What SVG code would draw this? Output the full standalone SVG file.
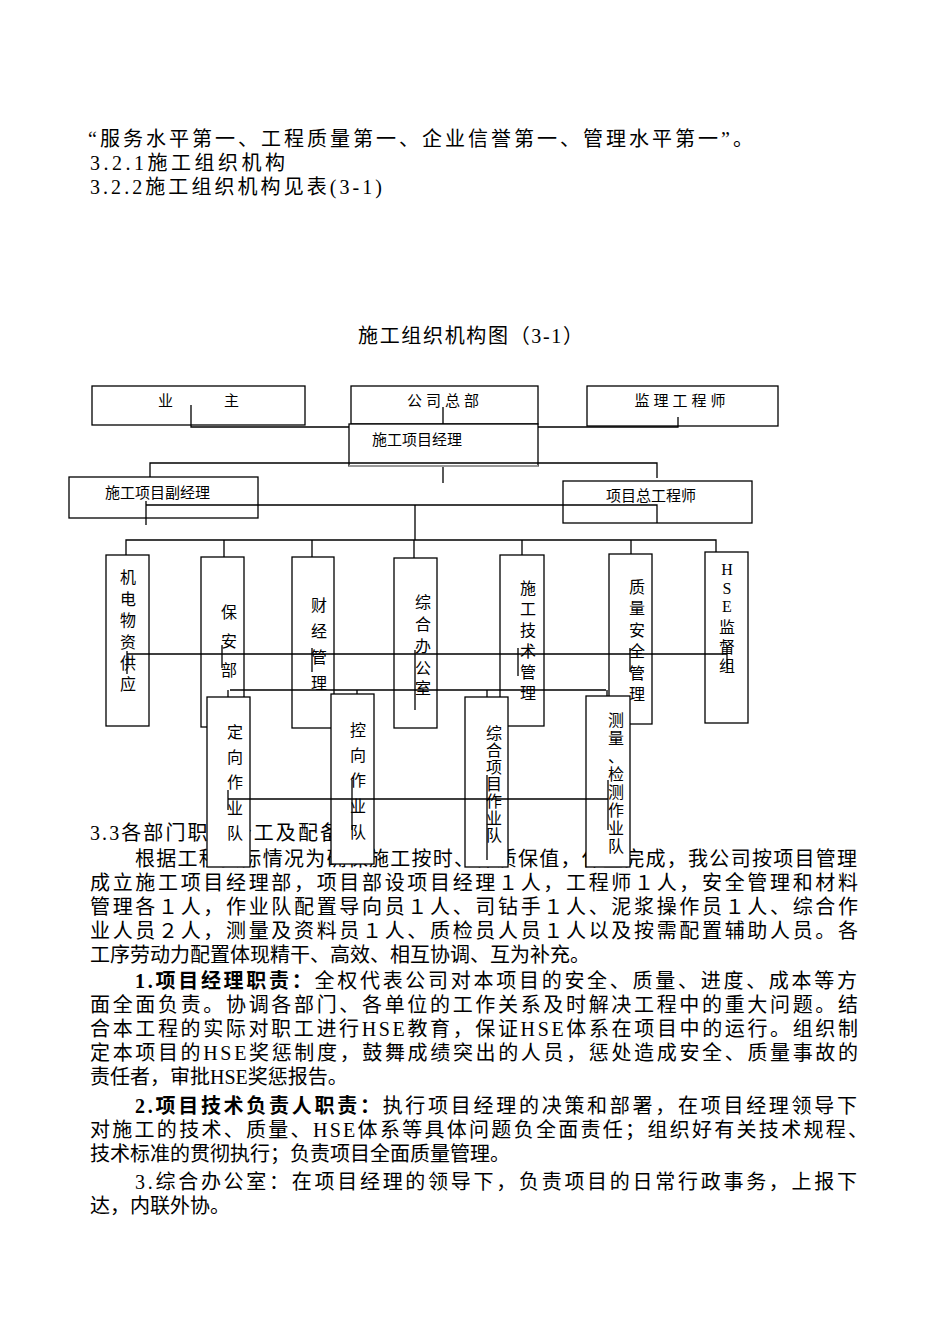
<svg xmlns="http://www.w3.org/2000/svg" width="950" height="1344" viewBox="0 0 950 1344">
<style>
text{font-family:"Liberation Serif","Noto Sans CJK SC",serif;fill:#000}
.b{font-size:20px}
.t{font-size:20px}
.n{font-size:15px}
.v{font-size:16px;text-anchor:middle}
.box{fill:#fff;stroke:#000;stroke-width:1.3}
.ln{stroke:#000;stroke-width:1.3;fill:none}
.bd{font-weight:bold}
</style>
<rect width="950" height="1344" fill="#fff"/>
<g id="intro">
<text class="b" x="88" y="146" textLength="665" lengthAdjust="spacing">“服务水平第一、工程质量第一、企业信誉第一、管理水平第一”。</text>
<text class="b" x="90" y="170" textLength="195" lengthAdjust="spacing">3.2.1施工组织机构</text>
<text class="b" x="90" y="194" textLength="292" lengthAdjust="spacing">3.2.2施工组织机构见表(3-1)</text>
<text class="b" x="358" y="343" textLength="225" lengthAdjust="spacing">施工组织机构图（3-1）</text>
</g>
<g id="body">
<text class="t" x="90" y="840" textLength="250" lengthAdjust="spacing">3.3各部门职责分工及配备</text>
<text class="t" x="135" y="866" textLength="722" lengthAdjust="spacing">根据工程实际情况为确保施工按时、保质保值，保量完成，我公司按项目管理</text>
<text class="t" x="90" y="890" textLength="768" lengthAdjust="spacing">成立施工项目经理部，项目部设项目经理１人，工程师１人，安全管理和材料</text>
<text class="t" x="90" y="914" textLength="768" lengthAdjust="spacing">管理各１人，作业队配置导向员１人、司钻手１人、泥浆操作员１人、综合作</text>
<text class="t" x="90" y="938" textLength="768" lengthAdjust="spacing">业人员２人，测量及资料员１人、质检员人员１人以及按需配置辅助人员。各</text>
<text class="t" x="90" y="962">工序劳动力配置体现精干、高效、相互协调、互为补充。</text>
<text class="t" x="135" y="988" textLength="722" lengthAdjust="spacing"><tspan class="bd">1.项目经理职责：</tspan>全权代表公司对本项目的安全、质量、进度、成本等方</text>
<text class="t" x="90" y="1012" textLength="768" lengthAdjust="spacing">面全面负责。协调各部门、各单位的工作关系及时解决工程中的重大问题。结</text>
<text class="t" x="90" y="1036" textLength="768" lengthAdjust="spacing">合本工程的实际对职工进行HSE教育，保证HSE体系在项目中的运行。组织制</text>
<text class="t" x="90" y="1060" textLength="768" lengthAdjust="spacing">定本项目的HSE奖惩制度，鼓舞成绩突出的人员，惩处造成安全、质量事故的</text>
<text class="t" x="90" y="1084">责任者，审批HSE奖惩报告。</text>
<text class="t" x="135" y="1113" textLength="722" lengthAdjust="spacing"><tspan class="bd">2.项目技术负责人职责：</tspan>执行项目经理的决策和部署，在项目经理领导下</text>
<text class="t" x="90" y="1137" textLength="778" lengthAdjust="spacing">对施工的技术、质量、HSE体系等具体问题负全面责任；组织好有关技术规程、</text>
<text class="t" x="90" y="1161">技术标准的贯彻执行；负责项目全面质量管理。</text>
<text class="t" x="135" y="1189" textLength="722" lengthAdjust="spacing">3.综合办公室：在项目经理的领导下，负责项目的日常行政事务，上报下</text>
<text class="t" x="90" y="1213">达，内联外协。</text>
</g>
<g id="n-yezhu"><rect class="box" x="92" y="386" width="213" height="39"/><text class="n" x="158" y="406">业</text><text class="n" x="224" y="406">主</text></g>
<g id="n-gongsi"><rect class="box" x="351" y="386" width="187" height="38"/><text class="n" x="445" y="406" text-anchor="middle" letter-spacing="4">公司总部</text></g>
<g id="n-jianli"><rect class="box" x="587" y="386" width="191" height="40"/><text class="n" x="682" y="406" text-anchor="middle" letter-spacing="4">监理工程师</text></g>
<g id="connectors">
<path class="ln" d="M191 405V427H678V417M443 407V427"/>
</g>
<g id="n-jingli"><rect class="box" x="349" y="424" width="189" height="42"/><line x1="349" y1="466" x2="538" y2="466" stroke="#999" stroke-width="2"/><text class="n" x="372" y="445">施工项目经理</text></g>
<g id="conn2">
<path class="ln" d="M150 477V463H657V478M443 467V483"/>
</g>
<g id="n-fujingli"><rect class="box" x="69" y="477" width="189" height="41"/><text class="n" x="105" y="498">施工项目副经理</text></g>
<g id="n-zonggong"><rect class="box" x="563" y="481" width="189" height="42"/><text class="n" x="606" y="501">项目总工程师</text></g>
<g id="conn3">
<path class="ln" d="M146 501V525M146 505H657V523M415 505V540M126 555V540H716V552M224 540V557M312 540V557M414 540V577M522 540V555M631 540V554"/>
</g>
<g id="n1"><rect class="box" x="106" y="555" width="43" height="171"/><text class="v" x="128" y="583">机</text><text class="v" x="128" y="605">电</text><text class="v" x="128" y="626">物</text><text class="v" x="128" y="648">资</text><text class="v" x="128" y="669">供</text><text class="v" x="128" y="690">应</text></g>
<g id="n2"><rect class="box" x="201" y="557" width="43" height="170"/><text class="v" x="229" y="618">保</text><text class="v" x="229" y="647">安</text><text class="v" x="229" y="676">部</text></g>
<g id="n3"><rect class="box" x="292" y="557" width="42" height="171"/><text class="v" x="319" y="611">财</text><text class="v" x="319" y="637">经</text><text class="v" x="319" y="663">管</text><text class="v" x="319" y="689">理</text></g>
<g id="n4"><rect class="box" x="394" y="558" width="43" height="170"/><text class="v" x="423" y="608">综</text><text class="v" x="423" y="630">合</text><text class="v" x="423" y="652">办</text><text class="v" x="423" y="674">公</text><text class="v" x="423" y="694">室</text></g>
<g id="n5"><rect class="box" x="500" y="555" width="44" height="171"/><text class="v" x="528" y="594">施</text><text class="v" x="528" y="615">工</text><text class="v" x="528" y="636">技</text><text class="v" x="528" y="657">术</text><text class="v" x="528" y="678">管</text><text class="v" x="528" y="699">理</text></g>
<g id="n6"><rect class="box" x="609" y="554" width="43" height="170"/><text class="v" x="637" y="593">质</text><text class="v" x="637" y="614">量</text><text class="v" x="637" y="636">安</text><text class="v" x="637" y="657">全</text><text class="v" x="637" y="679">管</text><text class="v" x="637" y="700">理</text></g>
<g id="n7"><rect class="box" x="705" y="552" width="43" height="171"/><text class="v" x="727" y="575">H</text><text class="v" x="727" y="594">S</text><text class="v" x="727" y="612">E</text><text class="v" x="727" y="633">监</text><text class="v" x="727" y="653">督</text><text class="v" x="727" y="672">组</text></g>
<g id="conn4">
<path class="ln" d="M127 654H727M127 651V674M222 645V668M312 648V672M415 650V710M518 648V676M630 648V672M727 645V668M230 690H606M228 690V717M357 690V710M487 690V715M607 690V712"/>
</g>
<g id="n8"><rect class="box" x="207" y="697" width="43" height="170"/><text class="v" x="235" y="738">定</text><text class="v" x="235" y="763">向</text><text class="v" x="235" y="788">作</text><text class="v" x="235" y="814">业</text><text class="v" x="235" y="839">队</text></g>
<g id="n9"><rect class="box" x="331" y="694" width="43" height="170"/><text class="v" x="358" y="736">控</text><text class="v" x="358" y="761">向</text><text class="v" x="358" y="786">作</text><text class="v" x="358" y="812">业</text><text class="v" x="358" y="838">队</text></g>
<g id="n10"><rect class="box" x="465" y="697" width="43" height="170"/><text class="v" x="494" y="739">综</text><text class="v" x="494" y="756">合</text><text class="v" x="494" y="773">项</text><text class="v" x="494" y="790">目</text><text class="v" x="494" y="807">作</text><text class="v" x="494" y="824">业</text><text class="v" x="494" y="841">队</text></g>
<g id="n11"><rect class="box" x="586" y="696" width="44" height="171"/><text class="v" x="616" y="726">测</text><text class="v" x="616" y="744">量</text><text class="v" x="616" y="762">、</text><text class="v" x="616" y="780">检</text><text class="v" x="616" y="798">测</text><text class="v" x="616" y="816">作</text><text class="v" x="616" y="834">业</text><text class="v" x="616" y="852">队</text></g>
<g id="conn5">
<path class="ln" d="M228 799H608M228 790V810M352 780V830M487 775V860M608 780V830"/>
</g>
</svg>
